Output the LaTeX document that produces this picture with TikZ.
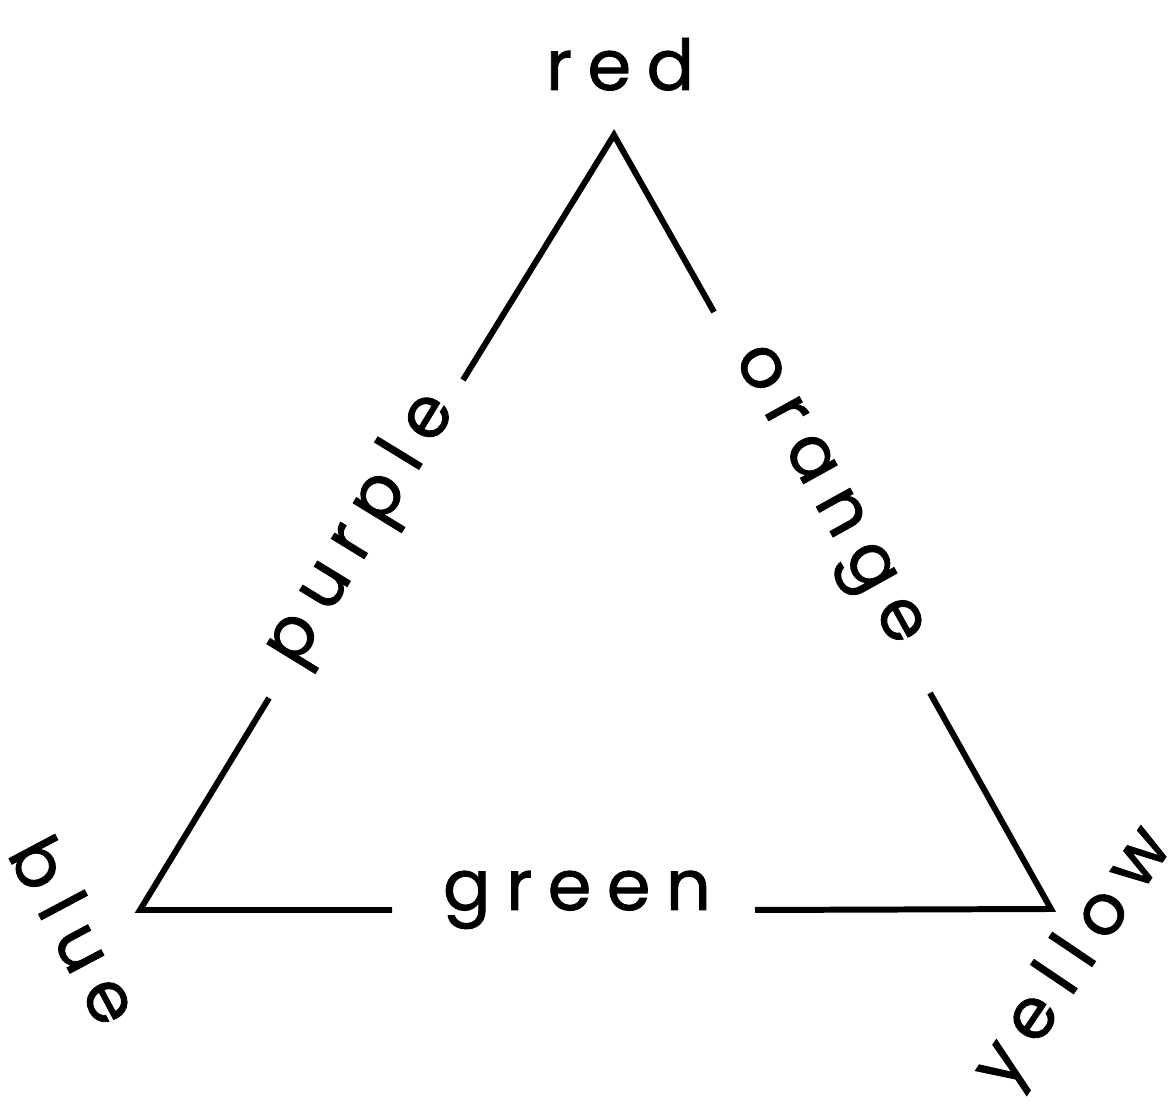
\documentclass[tikz,border=0pt]{standalone}
\usepackage{fontspec}
\setmainfont{Poppins}[LetterSpace=22, FakeBold=1.2]
\begin{document}
\begin{tikzpicture}[x=0.01cm,y=-0.01cm,
  edge/.style={line width=1.7pt},
  lbl/.style={font=\fontsize{20}{24}\selectfont, inner sep=0pt}]
\useasboundingbox (0,0) rectangle (1172,1104);
\coordinate (R) at (614,135);
\coordinate (B) at (140,910);
\coordinate (Y) at (1051,909);
\coordinate (p1) at (269,698);
\coordinate (p2) at (463,380);
\coordinate (o1) at (714,312);
\coordinate (o2) at (930,693);
\coordinate (g1) at (392,910);
\coordinate (g2) at (755,910);
\draw[edge] (p1) -- (B) -- (g1);
\draw[edge] (p2) -- (R) -- (o1);
\draw[edge] (o2) -- (Y) -- (g2);
\node[lbl, anchor=base] (red) at (620,90) {red};
\node[lbl, anchor=base] (green) at (577,910) {green};
\node[lbl, rotate=58.5] (purple) at (362,530) {purple};
\node[lbl, rotate=-61] (orange) at (823,498) {orange};
\node[lbl, rotate=-62] (blue) at (76,930) {blue};
\node[lbl, rotate=56] (yellow) at (1076,960) {yellow};
\end{tikzpicture}
\end{document}
